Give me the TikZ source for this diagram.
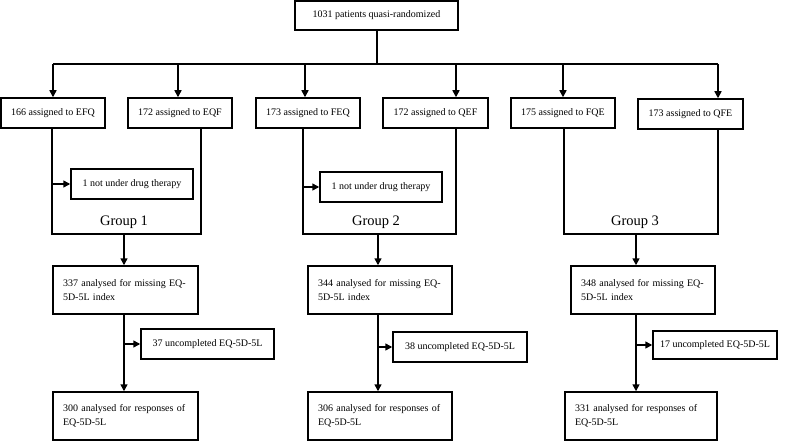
\documentclass[tikz,border=0pt]{standalone}
\usepackage{fontspec}
\setmainfont{Liberation Serif}
\usetikzlibrary{arrows.meta}
\begin{document}
\begin{tikzpicture}[x=1pt,y=-1pt,
  box/.style={draw, line width=1.5pt, inner sep=0pt, font=\fontsize{10}{13.5}\selectfont, align=center},
  lbox/.style={box, align=left, text width=#1, inner xsep=10pt, minimum height=48},
  ln/.style={line width=1.5pt},
  arr/.style={line width=1.5pt, -{Triangle[length=7pt,width=7pt]}},
  grp/.style={font=\fontsize{14.5}{16}\selectfont, inner sep=0pt}]
\useasboundingbox (0,0) rectangle (786,441);

% top
\node[box, minimum width=163, minimum height=29] (top) at (376.5,15.5) {1031 patients quasi-randomized};

% assignment boxes
\node[box, minimum width=104, minimum height=30] (b1) at (53,113) {166 assigned to EFQ};
\node[box, minimum width=104, minimum height=30] (b2) at (180,113) {172 assigned to EQF};
\node[box, minimum width=104, minimum height=30] (b3) at (308,113) {173 assigned to FEQ};
\node[box, minimum width=105, minimum height=30] (b4) at (435.5,113) {172 assigned to QEF};
\node[box, minimum width=104, minimum height=30] (b5) at (563,113) {175 assigned to FQE};
\node[box, minimum width=105, minimum height=30] (b6) at (690.5,114) {173 assigned to QFE};

% fan-out
\coordinate (split) at (377,64);
\coordinate (a1) at (53,64);
\coordinate (a2) at (178,64);
\coordinate (a3) at (305,64);
\coordinate (a4) at (456,64);
\coordinate (a5) at (563,64);
\coordinate (a6) at (718,64);
\draw[ln] (top.south -| split) -- (split);
\draw[ln] (a1) -- (a6);
\foreach \i in {1,...,6} {\draw[arr] (a\i) -- (a\i |- b\i.north);}

% group frames
\coordinate (g1l) at (52,234);  \coordinate (g1r) at (201,234);
\coordinate (g2l) at (303,234); \coordinate (g2r) at (456,234);
\coordinate (g3l) at (564,234); \coordinate (g3r) at (718,234);
\draw[ln] (b1.south -| g1l) -- (g1l) -- (g1r) -- (b2.south -| g1r);
\draw[ln] (b3.south -| g2l) -- (g2l) -- (g2r) -- (b4.south -| g2r);
\draw[ln] (b5.south -| g3l) -- (g3l) -- (g3r) -- (b6.south -| g3r);

\node[grp] (gl1) at (124,222) {Group 1};
\node[grp] (gl2) at (376,222) {Group 2};
\node[grp] (gl3) at (635,222) {Group 3};

% exclusions drug therapy
\node[box, minimum width=122, minimum height=30] (d1) at (132,184) {1 not under drug therapy};
\node[box, minimum width=122, minimum height=30] (d2) at (381,187) {1 not under drug therapy};
\draw[arr] (d1.west -| g1l) -- (d1.west);
\draw[arr] (d2.west -| g2l) -- (d2.west);

% analysed boxes
\node[lbox=125] (A1) at (125.5,290) {337 analysed for missing EQ-\\5D-5L index};
\node[lbox=124] (A2) at (380,290) {344 analysed for missing EQ-\\5D-5L index};
\node[lbox=124] (A3) at (643,290) {348 analysed for missing EQ-\\5D-5L index};
\node[lbox=125] (B1) at (125.5,416) {300 analysed for responses of\\EQ-5D-5L};
\node[lbox=124] (B2) at (380,416) {306 analysed for responses of\\EQ-5D-5L};
\node[lbox=132] (B3) at (641,416) {331 analysed for responses of\\EQ-5D-5L};

\coordinate (v1) at (124,234);
\coordinate (v2) at (378,234);
\coordinate (v3) at (636,234);
\draw[arr] (v1) -- (v1 |- A1.north);
\draw[arr] (v2) -- (v2 |- A2.north);
\draw[arr] (v3) -- (v3 |- A3.north);

% uncompleted
\node[box, minimum width=133, minimum height=30] (U1) at (207.5,344) {37 uncompleted EQ-5D-5L};
\node[box, minimum width=134, minimum height=30] (U2) at (460,347) {38 uncompleted EQ-5D-5L};
\node[box, minimum width=124, minimum height=28] (U3) at (715,345) {17 uncompleted EQ-5D-5L};

\draw[arr] (A1.south -| v1) -- (B1.north -| v1);
\draw[arr] (A2.south -| v2) -- (B2.north -| v2);
\draw[arr] (A3.south -| v3) -- (B3.north -| v3);
\draw[arr] (U1.west -| v1) -- (U1.west);
\draw[arr] (U2.west -| v2) -- (U2.west);
\draw[arr] (U3.west -| v3) -- (U3.west);
\end{tikzpicture}
\end{document}
